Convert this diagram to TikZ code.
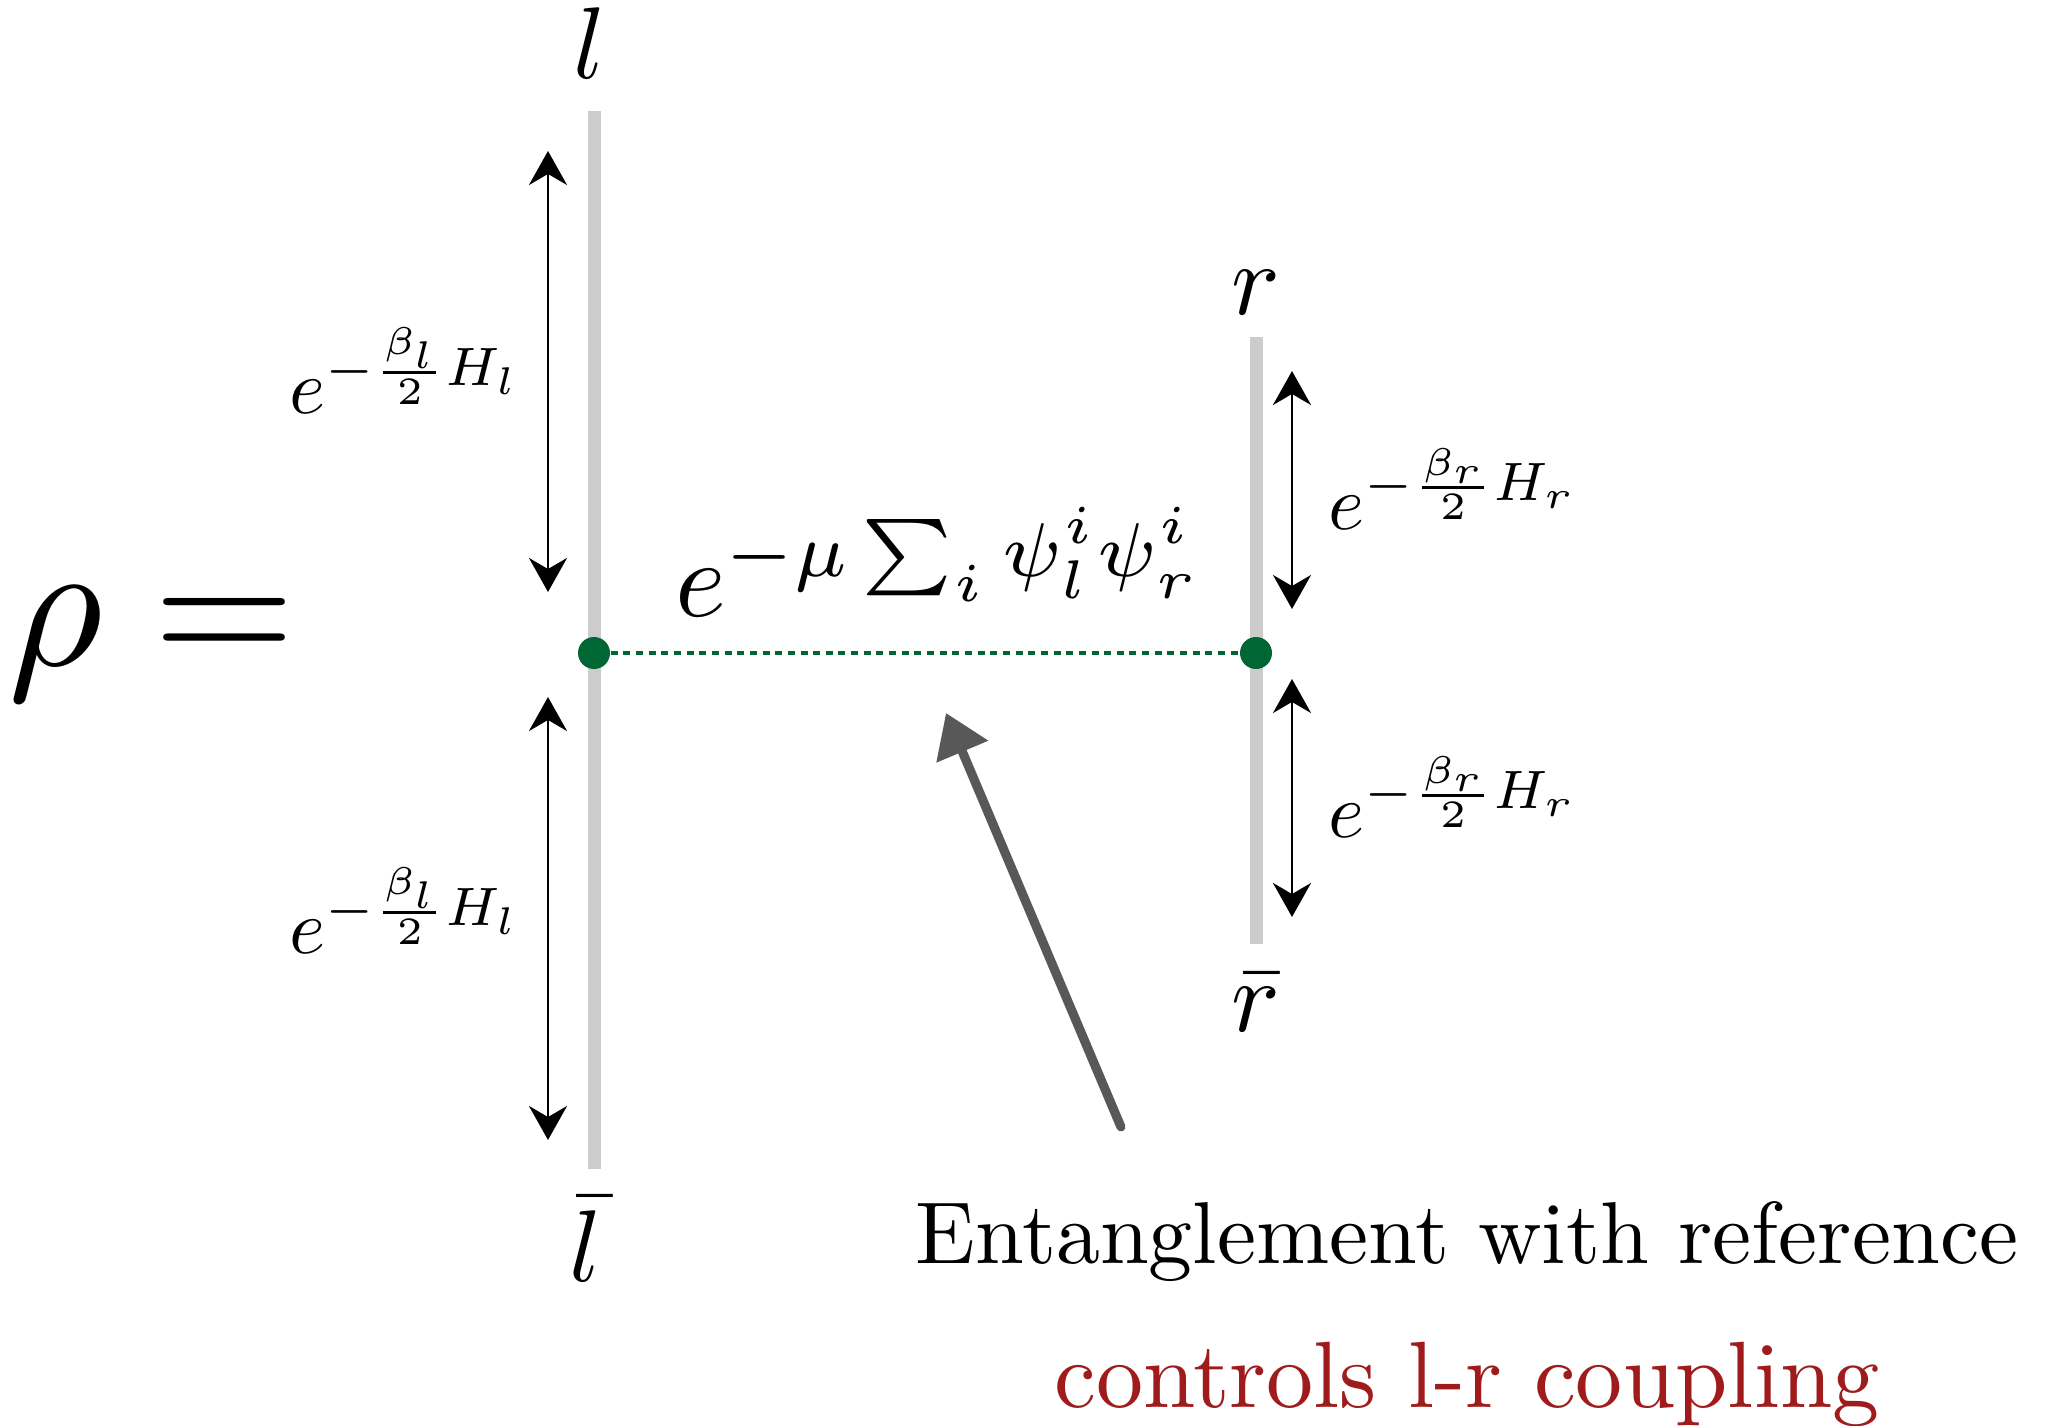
\documentclass[tikz,border=0pt]{standalone}
\usetikzlibrary{arrows.meta,positioning}
\usepackage{amsmath}
\definecolor{dotgreen}{RGB}{0,102,51}
\definecolor{notered}{RGB}{160,28,28}
\definecolor{chaingray}{RGB}{204,204,204}
\definecolor{notegray}{RGB}{88,88,88}

\begin{document}
\begin{tikzpicture}[
  chain/.style={line width=3.7pt, chaingray},
  dimarrow/.style={{Stealth[length=3.4mm,width=3.8mm]}-{Stealth[length=3.4mm,width=3.8mm]}, line width=0.8pt},
  site/.style={circle, fill=dotgreen, inner sep=0pt, minimum size=3.2mm},
  expo/.style={scale=2.2, inner sep=0pt},
  endlabel/.style={scale=2.9, inner sep=0pt}]
\useasboundingbox (0,0) rectangle (20.55,14.25);

\node[scale=5.2, inner sep=0pt] (rho) at (1.52,7.81) {$\rho =$};

% left and right chains
\coordinate (ltop) at (5.94,13.14);
\coordinate (lbot) at (5.94,2.56);
\coordinate (rtop) at (12.56,10.88);
\coordinate (rbot) at (12.56,4.81);
\draw[chain] (ltop) -- (lbot);
\draw[chain] (rtop) -- (rbot);
\node[endlabel] (l) at (5.90,13.82) {$l$};
\node[endlabel] (lbar) at (5.86,1.86) {$\bar{l}$};
\node[endlabel] (r) at (12.56,11.32) {$r$};
\node[endlabel] (rbar) at (12.56,4.22) {$\bar{r}$};

% coupling between the two sites
\node[site] (ldot) at (5.94,7.72) {};
\node[site] (rdot) at (12.56,7.72) {};
\draw[dotgreen, line width=1pt, dash pattern=on 2pt off 1.6pt] (ldot) -- (rdot);
\node[scale=3.1, inner sep=0pt] (coupling) at (9.40,8.63) {$e^{-\mu\sum_i \psi_l^i\psi_r^i}$};

% euclidean evolution
\coordinate (la) at (5.48,12.74);
\coordinate (lb) at (5.48,8.33);
\coordinate (lc) at (5.48,7.28);
\coordinate (ld) at (5.48,2.85);
\coordinate (ra) at (12.92,10.54);
\coordinate (rb) at (12.92,8.16);
\coordinate (rc) at (12.92,7.46);
\coordinate (rd) at (12.92,5.08);
\draw[dimarrow] (la) -- (lb);
\draw[dimarrow] (lc) -- (ld);
\draw[dimarrow] (ra) -- (rb);
\draw[dimarrow] (rc) -- (rd);
\node[expo, anchor=east] (hl1) at (5.24,10.54) {$e^{-\frac{\beta_l}{2}H_l}$};
\node[expo, anchor=east] (hl2) at (5.24,5.14) {$e^{-\frac{\beta_l}{2}H_l}$};
\node[expo, anchor=west] (hr1) at (13.27,9.36) {$e^{-\frac{\beta_r}{2}H_r}$};
\node[expo, anchor=west] (hr2) at (13.27,6.28) {$e^{-\frac{\beta_r}{2}H_r}$};

% note
\node[scale=2.5, anchor=base] (note) at (14.67,1.62) {Entanglement with reference};
\node[scale=2.68, anchor=base, text=notered] (note2) at (14.67,0.18) {controls l-r coupling};
\coordinate (notetail) at (11.21,2.98);
\coordinate (notetip) at (9.46,7.12);
\draw[notegray, line width=2.6pt, line cap=round, -{Triangle[length=4.2mm,width=5.4mm]}] (notetail) -- (notetip);
\end{tikzpicture}
\end{document}
